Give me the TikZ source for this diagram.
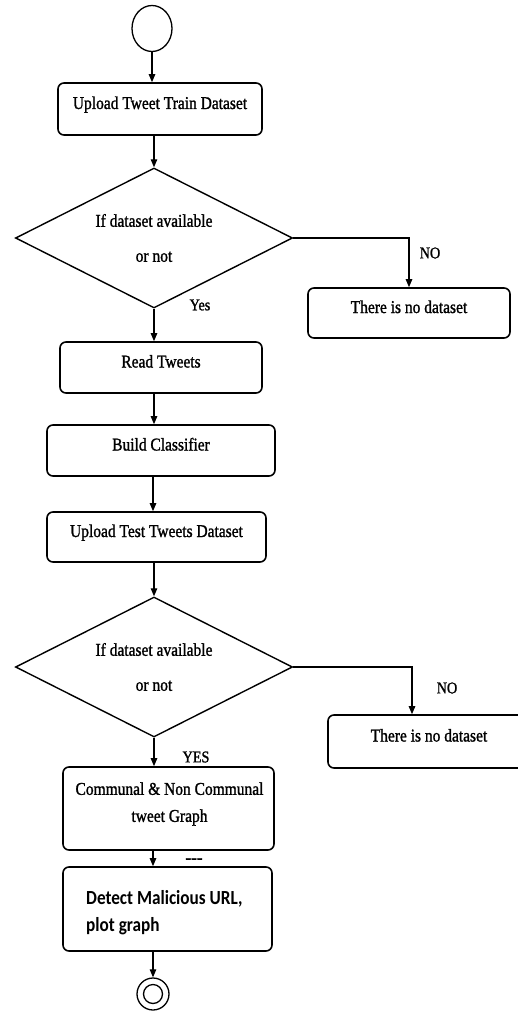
\documentclass[tikz,border=0pt]{standalone}
\usepackage{fontspec}
\setmainfont{Liberation Serif}[FakeStretch=0.86,FakeBold=1.3]
\newfontfamily\calib{Carlito}[FakeStretch=0.86]
\usetikzlibrary{shapes.geometric,arrows.meta,calc}
\begin{document}
\begin{tikzpicture}[x=1pt,y=-1pt,
  box/.style={draw,line width=1.6pt,rounded corners=6pt,inner sep=0pt,
    font=\fontsize{18}{21}\selectfont,text height=12pt,text depth=12pt},
  shell/.style={draw,line width=1.6pt,rounded corners=6pt,inner sep=0pt},
  txt/.style={inner sep=0pt,font=\fontsize{18}{27}\selectfont,align=center},
  dia/.style={draw,diamond,line width=1.4pt,minimum width=277pt,minimum height=140pt,
    inner sep=0pt,shape aspect=2,align=center,font=\fontsize{18}{21}\selectfont},
  arr/.style={line width=1.1pt,-{Triangle[length=8pt,width=6.5pt]}},
  lbl/.style={inner sep=0pt,font=\fontsize{16.5}{19}\selectfont}]
\useasboundingbox (0,0) rectangle (518,1014);
\clip (0,0) rectangle (518,1014);
\node[draw,ellipse,line width=1.3pt,minimum width=40pt,minimum height=46pt,inner sep=0pt] (start) at (152,28.5) {};
\node[box,minimum width=204pt,minimum height=52pt] (b1) at (160,109) {Upload Tweet Train Dataset};
\node[dia] (d1) at (154,238) {If dataset available\\[14pt]or not};
\node[box,minimum width=202pt,minimum height=50pt] (no1) at (409,313) {There is no dataset};
\node[lbl] (nolbl1) at (430,253) {NO};
\node[lbl] (yes1) at (200,305) {Yes};
\node[box,minimum width=202pt,minimum height=51pt] (rt) at (161,367.5) {Read Tweets};
\node[box,minimum width=228pt,minimum height=51pt] (bc) at (161,450.5) {Build Classifier};
\node[box,minimum width=219pt,minimum height=50pt] (ut) at (156.5,537) {Upload Test Tweets Dataset};
\node[dia] (d2) at (154,667) {If dataset available\\[14pt]or not};
\node[box,minimum width=202pt,minimum height=53pt] (no2) at (429,741.5) {There is no dataset};
\node[lbl] (nolbl2) at (447,688) {NO};
\node[lbl] (yes2) at (196,757) {YES};
\node[shell,minimum width=211pt,minimum height=83pt] (cg) at (168.5,808.5) {};
\node[txt] (cgt) at (169.5,804) {Communal \& Non Communal\\tweet Graph};
\node[lbl,font=\fontsize{20}{20}\selectfont] (dash) at (194,861) {-{}-{}-};
\node[shell,minimum width=209pt,minimum height=84pt] (dm) at (167.5,909) {};
\node[inner sep=0pt,anchor=west,align=left,font=\calib\bfseries\fontsize{20}{27}\selectfont] (dmt) at (86,913) {Detect Malicious URL,\\plot graph};
\node[circle,draw,line width=1.3pt,minimum size=32pt,inner sep=0pt] (fin) at (153,994) {};
\node[circle,draw,line width=1.3pt,minimum size=19pt,inner sep=0pt] (finin) at (fin.center) {};
\draw[arr] (start.south) -- (start.south |- b1.north);
\draw[arr] (d1.north |- b1.south) -- (d1.north);
\draw[arr] (d1.east) -| (no1.north);
\draw[arr] (d1.south) -- (d1.south |- rt.north);
\draw[arr] (d1.south |- rt.south) -- (d1.south |- bc.north);
\draw[arr] ([xshift=-1pt]d1.south |- bc.south) -- ([xshift=-1pt]d1.south |- ut.north);
\draw[arr] (d2.north |- ut.south) -- (d2.north);
\draw[arr] (d2.east) -| ([xshift=-17pt]no2.north);
\draw[arr] (d2.south) -- (d2.south |- cg.north);
\draw[arr] ([xshift=-1pt]d2.south |- cg.south) -- ([xshift=-1pt]d2.south |- dm.north);
\draw[arr] (fin.north |- dm.south) -- (fin.north);
\end{tikzpicture}
\end{document}
